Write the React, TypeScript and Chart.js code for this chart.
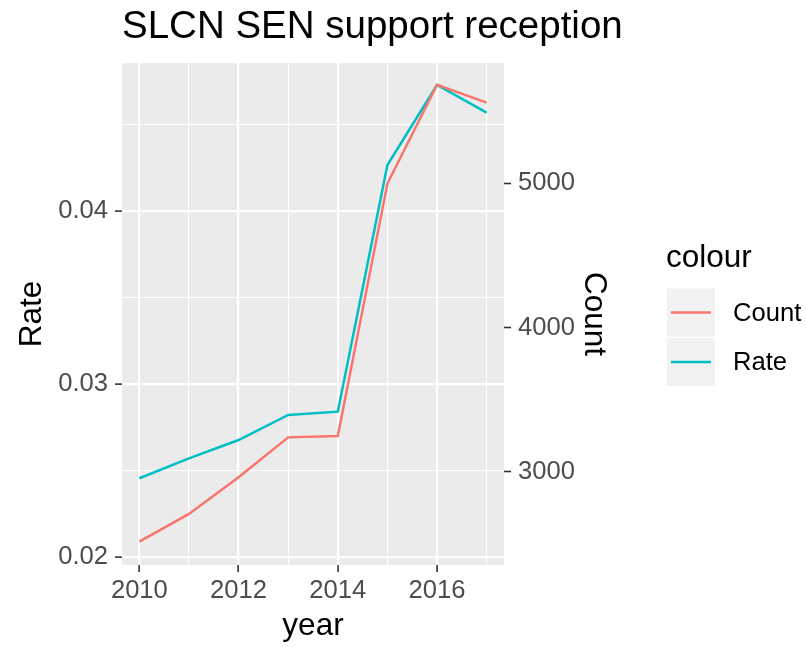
import React, { useEffect, useRef } from "react";
import { Chart, registerables } from "chart.js";

Chart.register(...registerables);

const years = [2010, 2011, 2012, 2013, 2014, 2015, 2016, 2017];
const rateValues = [0.02454, 0.02569, 0.02675, 0.0282, 0.02839, 0.04266, 0.04729, 0.04569];
const countValues = [2515, 2707, 2961, 3238, 3248, 4998, 5682, 5559];
const rateTicks = [0.02, 0.025, 0.03, 0.035, 0.04, 0.045];
const countTicks = [3000, 4000, 5000];
const yearTicks = [2010, 2011, 2012, 2013, 2014, 2015, 2016, 2017];
const seriesNames = ["Count", "Rate"];
const seriesColors = ["#F8766D", "#00BFC4"];
const chartTitle = "SLCN SEN support reception";
const xTitle = "year";
const yTitle = "Rate";
const y2Title = "Count";
const legendTitle = "colour";

const FONT = "'Liberation Sans', Arial, sans-serif";
const TICK_COLOR = "#4D4D4D";

const isMajorRate = (v: number) => Math.abs(v * 100 - Math.round(v * 100)) < 1e-6;
const isMajorYear = (v: number) => Math.round(v) % 2 === 0;

const decorPlugin = {
  id: "decor",
  beforeDraw(chart: any) {
    const { ctx, chartArea } = chart;
    ctx.save();
    ctx.fillStyle = "#FFFFFF";
    ctx.fillRect(0, 0, chart.width, chart.height);
    ctx.fillStyle = "#EBEBEB";
    ctx.fillRect(chartArea.left, chartArea.top, chartArea.right - chartArea.left, chartArea.bottom - chartArea.top);
    ctx.restore();
  },
  afterDraw(chart: any) {
    const { ctx, chartArea } = chart;
    const midY = (chartArea.top + chartArea.bottom) / 2;
    const midX = (chartArea.left + chartArea.right) / 2;
    ctx.save();
    ctx.fillStyle = "#000000";
    ctx.textBaseline = "alphabetic";
    // title
    ctx.font = `38.5px ${FONT}`;
    ctx.textAlign = "left";
    ctx.fillText(chartTitle, chartArea.left, 38);
    // x title
    ctx.font = `31.5px ${FONT}`;
    ctx.textAlign = "center";
    ctx.fillText(xTitle, midX, 635);
    // y title
    ctx.save();
    ctx.translate(41, midY);
    ctx.rotate(-Math.PI / 2);
    ctx.textAlign = "center";
    ctx.fillText(yTitle, 0, 0);
    ctx.restore();
    // y2 title
    ctx.save();
    ctx.translate(585, midY);
    ctx.rotate(Math.PI / 2);
    ctx.textAlign = "center";
    ctx.fillText(y2Title, 0, 0);
    ctx.restore();
    // legend
    ctx.textAlign = "left";
    ctx.font = `31.5px ${FONT}`;
    ctx.fillText(legendTitle, 666, 267);
    const keyX = 667;
    const keyTops = [288.5, 338];
    const keySize = 48;
    seriesNames.forEach((name, i) => {
      const top = keyTops[i];
      ctx.fillStyle = "#F2F2F2";
      ctx.fillRect(keyX, top, keySize, keySize);
      ctx.strokeStyle = seriesColors[i];
      ctx.lineWidth = 2.5;
      ctx.beginPath();
      ctx.moveTo(keyX + 4, top + keySize / 2);
      ctx.lineTo(keyX + keySize - 4, top + keySize / 2);
      ctx.stroke();
      ctx.fillStyle = "#000000";
      ctx.font = `25.6px ${FONT}`;
      ctx.textBaseline = "middle";
      ctx.fillText(name, 733, top + keySize / 2 + 1);
      ctx.textBaseline = "alphabetic";
    });
    ctx.restore();
  },
};

export default function App() {
  const canvasRef = useRef<HTMLCanvasElement | null>(null);

  useEffect(() => {
    const canvas = canvasRef.current;
    if (!canvas) return;
    const tickFont = { family: FONT, size: 25.6 };
    const chart = new Chart(canvas, {
      type: "line",
      data: {
        datasets: [
          {
            label: seriesNames[1],
            data: years.map((x, i) => ({ x, y: rateValues[i] })),
            borderColor: seriesColors[1],
            backgroundColor: seriesColors[1],
            borderWidth: 2.5,
            pointRadius: 0,
            tension: 0,
            yAxisID: "y",
            order: 2,
          },
          {
            label: seriesNames[0],
            data: years.map((x, i) => ({ x, y: countValues[i] })),
            borderColor: seriesColors[0],
            backgroundColor: seriesColors[0],
            borderWidth: 2.5,
            pointRadius: 0,
            tension: 0,
            yAxisID: "y2",
            order: 1,
          },
        ],
      },
      options: {
        animation: false,
        responsive: false,
        devicePixelRatio: 1,
        layout: { padding: { top: 63, left: 0, right: 0, bottom: 0 } },
        plugins: {
          legend: { display: false },
          title: { display: false },
          tooltip: { enabled: false },
        },
        scales: {
          x: {
            type: "linear",
            min: 2009.65,
            max: 2017.35,
            afterBuildTicks: (scale: any) => {
              scale.ticks = yearTicks.map((v) => ({ value: v }));
            },
            afterFit: (scale: any) => {
              scale.height = 82;
            },
            ticks: {
              font: tickFont,
              color: TICK_COLOR,
              padding: 4,
              maxRotation: 0,
              autoSkip: false,
              callback: (v: any) => (isMajorYear(Number(v)) ? String(v) : ""),
            },
            grid: {
              color: "#FFFFFF",
              lineWidth: (c: any) => (c.tick && isMajorYear(c.tick.value) ? 2.2 : 1.1),
              tickColor: (c: any) => (c.tick && isMajorYear(c.tick.value) ? "#333333" : "rgba(0,0,0,0)"),
              tickLength: 7,
              tickWidth: 1.6,
              drawTicks: true,
            },
            border: { display: false },
          },
          y: {
            type: "linear",
            position: "left",
            min: 0.01952,
            max: 0.048562,
            afterBuildTicks: (scale: any) => {
              scale.ticks = rateTicks.map((v) => ({ value: v }));
            },
            afterFit: (scale: any) => {
              scale.width = 122;
            },
            ticks: {
              font: tickFont,
              color: TICK_COLOR,
              padding: 7,
              autoSkip: false,
              callback: (v: any) => (isMajorRate(Number(v)) ? Number(v).toFixed(2) : ""),
            },
            grid: {
              color: "#FFFFFF",
              lineWidth: (c: any) => (c.tick && isMajorRate(c.tick.value) ? 2.2 : 1.1),
              tickColor: (c: any) => (c.tick && isMajorRate(c.tick.value) ? "#333333" : "rgba(0,0,0,0)"),
              tickLength: 7,
              tickWidth: 1.6,
            },
            border: { display: false },
          },
          y2: {
            type: "linear",
            position: "right",
            min: 2353,
            max: 5834,
            afterBuildTicks: (scale: any) => {
              scale.ticks = countTicks.map((v) => ({ value: v }));
            },
            afterFit: (scale: any) => {
              scale.width = 302;
            },
            ticks: {
              font: tickFont,
              color: TICK_COLOR,
              padding: 7,
              autoSkip: false,
              callback: (v: any) => String(v),
            },
            grid: {
              drawOnChartArea: false,
              color: "#333333",
              tickColor: "#333333",
              tickLength: 7,
              tickWidth: 1.6,
            },
            border: { display: false },
          },
        },
      },
      plugins: [decorPlugin],
    } as any);
    return () => chart.destroy();
  }, []);

  return (
    <div style={{ position: "fixed", left: 0, top: 0, width: 806, height: 647, background: "#FFFFFF" }}>
      <canvas ref={canvasRef} width={806} height={647} style={{ display: "block", width: 806, height: 647 }} />
    </div>
  );
}
